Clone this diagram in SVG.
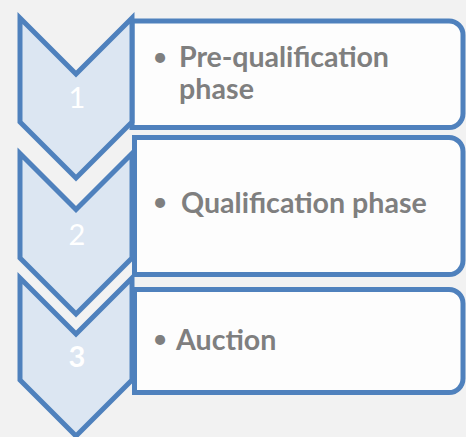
<svg xmlns="http://www.w3.org/2000/svg" width="466" height="437" viewBox="0 0 466 437">
<style>
.bg{fill:#f2f2f2}
.box{fill:#fdfdfd;stroke:#4f81bd;stroke-width:5}
.chev{fill:#dce6f2;stroke:#4f81bd;stroke-width:5;stroke-linejoin:miter;stroke-miterlimit:10}
.num{font-family:Lato,"Liberation Sans",sans-serif;font-size:29px;fill:#ffffff;text-anchor:middle}
.lbl{font-family:Lato,"Liberation Sans",sans-serif;font-size:28.6px;font-weight:bold;fill:#7f7f7f}
.bul{font-family:Lato,"Liberation Sans",sans-serif;font-size:27px;fill:#7f7f7f;text-anchor:middle}
</style>
<rect class="bg" x="0" y="0" width="466" height="437"/>
<g id="box1">
<path class="box" d="M132,21 H449 A14,14 0 0 1 463,35 V113.5 A14,14 0 0 1 449,127.5 H132 Z"/>
<text class="bul" x="160" y="66">•</text>
<text class="lbl" x="179" y="67" font-size="26.5" textLength="210" lengthAdjust="spacing">Pre-qualification</text>
<text class="lbl" x="179" y="99" font-size="26.5" textLength="75" lengthAdjust="spacing">phase</text>
</g>
<g id="box2">
<path class="box" d="M134.5,137.5 H449 A14,14 0 0 1 463,151.5 V260.5 A14,14 0 0 1 449,274.5 H134.5 Z"/>
<text class="bul" x="160" y="211">•</text>
<text class="lbl" x="181" y="213">Qualification phase</text>
</g>
<g id="box3">
<path class="box" d="M134.5,289.5 H449 A14,14 0 0 1 463,303.5 V378.5 A14,14 0 0 1 449,392.5 H134.5 Z"/>
<text class="bul" x="160" y="348">•</text>
<text class="lbl" x="176" y="350">Auction</text>
</g>
<g id="chev1">
<polygon class="chev" points="20,18 76,74 132,18 132,122 76,178 20,122"/>
<text class="num" x="77" y="108">1</text>
</g>
<g id="chev2">
<polygon class="chev" points="20,153.5 76,209.5 132,153.5 132,258 76,314 20,258"/>
<text class="num" x="77" y="245">2</text>
</g>
<g id="chev3">
<polygon class="chev" points="20,278 76,334 132,278 132,380 76,436 20,380"/>
<text class="num" x="77" y="367" font-weight="bold">3</text>
</g>
<g id="connectors"></g>
</svg>
